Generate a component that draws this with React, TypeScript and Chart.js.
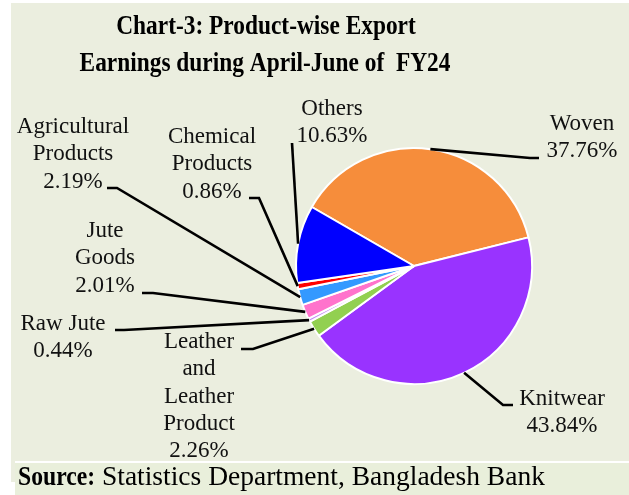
import React, { useEffect, useRef } from "react";
import { Chart, registerables } from "chart.js";

Chart.register(...registerables);

// ---- data ----
const categories = [
  "Woven",
  "Knitwear",
  "Leather and Leather Product",
  "Raw Jute",
  "Jute Goods",
  "Agricultural Products",
  "Chemical Products",
  "Others",
];
const shares = [37.76, 43.84, 2.26, 0.44, 2.01, 2.19, 0.86, 10.63];
const sliceColors = [
  "#F68D3B",
  "#9933FF",
  "#92D050",
  "#C58CF5",
  "#FF73CC",
  "#3399FF",
  "#FF0000",
  "#0000FF",
];
const labelNameLines = [
  ["Woven"],
  ["Knitwear"],
  ["Leather", "and", "Leather", "Product"],
  ["Raw Jute"],
  ["Jute", "Goods"],
  ["Agricultural", "Products"],
  ["Chemical", "Products"],
  ["Others"],
];
const titleLines = ["Chart-3: Product-wise Export", "Earnings during April-June of  FY24"];
const sourceBold = "Source:";
const sourceRest = " Statistics Department, Bangladesh Bank";

// ---- layout (positions only) ----
const labelLayout = [
  { cx: 582, y0: 130, end: [539, 158], elbow: [530, 158] },
  { cx: 562, y0: 405, end: [513, 405], elbow: [503, 405] },
  { cx: 199, y0: 348, end: [241, 349], elbow: [253, 349] },
  { cx: 63, y0: 330, end: [115, 330], elbow: [124, 330] },
  { cx: 105, y0: 237, end: [142, 293], elbow: [153, 293] },
  { cx: 73, y0: 133, end: [107, 188], elbow: [117, 188] },
  { cx: 212, y0: 143, end: [249, 198], elbow: [259, 198] },
  { cx: 332, y0: 115, end: [292, 143], elbow: [292, 143] },
];
const LINE_H = 27.3;
const SERIF = '"Liberation Serif", "Times New Roman", serif';

function drawScaled(ctx: any, text: string, x: number, y: number, font: string, hscale: number, align: string) {
  ctx.save();
  ctx.font = font;
  ctx.textAlign = align;
  ctx.textBaseline = "alphabetic";
  ctx.translate(x, y);
  ctx.scale(hscale, 1);
  ctx.fillText(text, 0, 0);
  const w = ctx.measureText(text).width * hscale;
  ctx.restore();
  return w;
}

const decorPlugin = {
  id: "decor",
  beforeDraw(chart: any) {
    const ctx = chart.ctx;
    const W = chart.width;
    const H = chart.height;
    ctx.save();
    ctx.fillStyle = "#FFFFFF";
    ctx.fillRect(0, 0, W, H);
    ctx.fillStyle = "#EBEEDF";
    ctx.fillRect(11, 3, W - 11, 479);
    ctx.fillStyle = "#FFFFFF";
    ctx.fillRect(15, 461, W - 15, 2);
    ctx.fillStyle = "#E9EFDB";
    ctx.fillRect(15, 463, W - 15, H - 463);
    ctx.restore();
  },
  afterDraw(chart: any) {
    const ctx = chart.ctx;
    const meta = chart.getDatasetMeta(0);
    ctx.save();
    // leader lines
    ctx.strokeStyle = "#000000";
    ctx.lineWidth = 2.6;
    ctx.lineJoin = "miter";
    meta.data.forEach((arc: any, i: number) => {
      const p = arc.getProps(["x", "y", "startAngle", "endAngle", "outerRadius"], true);
      const mid = (p.startAngle + p.endAngle) / 2;
      const r = p.outerRadius;
      const sx = p.x + Math.cos(mid) * r;
      const sy = p.y + Math.sin(mid) * r;
      const L = labelLayout[i];
      ctx.beginPath();
      ctx.moveTo(L.end[0], L.end[1]);
      ctx.lineTo(L.elbow[0], L.elbow[1]);
      ctx.lineTo(sx, sy);
      ctx.stroke();
    });
    // labels
    ctx.fillStyle = "#111111";
    meta.data.forEach((_arc: any, i: number) => {
      const L = labelLayout[i];
      const lines = [...labelNameLines[i], shares[i].toFixed(2) + "%"];
      lines.forEach((t, k) => drawScaled(ctx, t, L.cx, L.y0 + k * LINE_H, `23px ${SERIF}`, 1, "center"));
    });
    // title
    ctx.fillStyle = "#000000";
    drawScaled(ctx, titleLines[0], 266, 34, `bold 28px ${SERIF}`, 0.835, "center");
    drawScaled(ctx, titleLines[1], 265, 71, `bold 28px ${SERIF}`, 0.835, "center");
    // source
    const w = drawScaled(ctx, sourceBold, 18, 485, `bold 27.5px ${SERIF}`, 0.86, "left");
    drawScaled(ctx, sourceRest, 18 + w, 485, `27.5px ${SERIF}`, 1, "left");
    ctx.restore();
  },
};

export default function App() {
  const ref = useRef<HTMLCanvasElement | null>(null);
  useEffect(() => {
    document.body.style.margin = "0";
    const canvas = ref.current!;
    const chart = new Chart(canvas, {
      type: "pie",
      data: {
        labels: categories,
        datasets: [
          {
            data: shares,
            backgroundColor: sliceColors,
            borderColor: "#FFFFFF",
            borderWidth: 2,
          },
        ],
      },
      options: {
        animation: false,
        responsive: false,
        devicePixelRatio: 1,
        events: [],
        rotation: -60,
        layout: { padding: { left: 295, top: 147, right: 96, bottom: 110 } },
        plugins: {
          legend: { display: false },
          tooltip: { enabled: false },
          title: { display: false },
        },
      },
      plugins: [decorPlugin],
    });
    return () => chart.destroy();
  }, []);
  return (
    <div style={{ width: 629, height: 495 }}>
      <canvas ref={ref} width={629} height={495} style={{ display: "block" }} />
    </div>
  );
}
